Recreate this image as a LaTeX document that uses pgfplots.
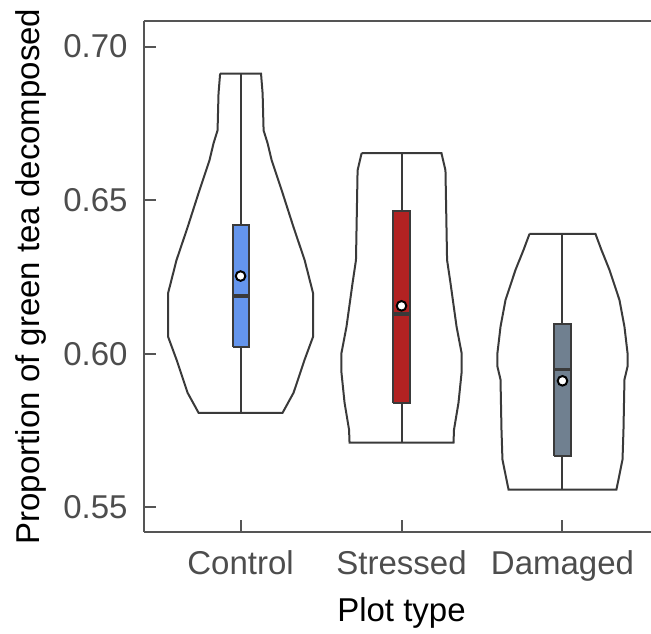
\documentclass[border=0pt]{standalone}
\usepackage{fontspec}
\setmainfont{Liberation Sans}
\usepackage{pgfplots}
\pgfplotsset{compat=1.18}

\definecolor{ctrl}{HTML}{6495ED}
\definecolor{strs}{HTML}{B22222}
\definecolor{dmg}{HTML}{708090}
\definecolor{ink}{HTML}{3A3A3A}
\definecolor{axisgray}{HTML}{555555}
\definecolor{ticktext}{HTML}{4D4D4D}

\newcommand{\chartfont}{\fontsize{16.5}{20}\selectfont}

\begin{document}
\begin{tikzpicture}
\begin{axis}[
  scale only axis, width=253.5pt, height=255.5pt,
  xmin=0.4, xmax=3.55, ymin=0.542, ymax=0.7083,
  clip=false,
  axis x line*=bottom, axis y line*=left,
  axis line style={-, axisgray, line width=1pt},
  xtick={1,2,3}, xticklabels={Control,Stressed,Damaged},
  ytick={0.55,0.60,0.65,0.70},
  /pgf/number format/.cd, fixed, fixed zerofill, precision=2, assume math mode=true, /pgfplots/.cd,
  tick align=inside, major tick length=6pt,
  tick style={axisgray, line width=1pt},
  tick label style={font=\chartfont, text=ticktext},
  xticklabel style={anchor=north, inner sep=0pt, yshift=-9pt},
  yticklabel style={anchor=east, inner sep=0pt, xshift=-8pt},
  label style={font=\chartfont, text=black},
  xlabel={Plot type},
  ylabel={Proportion of green tea decomposed},
  xlabel style={at={([yshift=-32.5pt]axis description cs:0.5079,0)}, anchor=north, inner sep=0pt},
  ylabel style={at={([xshift=-64.5pt]axis description cs:0,0.5)}, anchor=north, inner sep=0pt},
  outline/.style={ink, line width=1pt},
]

% violin outlines (density profiles, mirrored about each category)
\addplot[outline] coordinates {
  (0.873,0.6912) (0.863,0.6847) (0.857,0.6727) (0.832,0.6685) (0.807,0.6630)
  (0.739,0.6523) (0.671,0.6412) (0.602,0.6305) (0.550,0.6198) (0.550,0.6055)
  (0.602,0.5981) (0.671,0.5873) (0.739,0.5808)
  (1.261,0.5808) (1.329,0.5873) (1.398,0.5981) (1.450,0.6055) (1.450,0.6198)
  (1.398,0.6305) (1.329,0.6412) (1.261,0.6523) (1.193,0.6630) (1.168,0.6685)
  (1.143,0.6727) (1.137,0.6847) (1.127,0.6912) (0.873,0.6912)
};
\addplot[outline] coordinates {
  (1.752,0.6653) (1.727,0.6597) (1.717,0.6305) (1.696,0.6231) (1.658,0.6088)
  (1.627,0.6003) (1.627,0.5938) (1.646,0.5841) (1.674,0.5753) (1.677,0.5711)
  (2.323,0.5711) (2.326,0.5753) (2.354,0.5841) (2.373,0.5938) (2.373,0.6003)
  (2.342,0.6088) (2.304,0.6231) (2.283,0.6305) (2.273,0.6597) (2.248,0.6653)
  (1.752,0.6653)
};
\addplot[outline] coordinates {
  (2.795,0.6390) (2.758,0.6338) (2.708,0.6273) (2.646,0.6175) (2.615,0.6088)
  (2.596,0.6003) (2.596,0.5958) (2.615,0.5916) (2.621,0.5753) (2.627,0.5656)
  (2.652,0.5591) (2.665,0.5558)
  (3.335,0.5558) (3.348,0.5591) (3.373,0.5656) (3.379,0.5753) (3.385,0.5916)
  (3.404,0.5958) (3.404,0.6003) (3.385,0.6088) (3.354,0.6175) (3.292,0.6273)
  (3.242,0.6338) (3.205,0.6390) (2.795,0.6390)
};

% whiskers: min to max of each group
\addplot[outline] coordinates {(1,0.5808) (1,0.6912)};
\addplot[outline] coordinates {(2,0.5711) (2,0.6653)};
\addplot[outline] coordinates {(3,0.5558) (3,0.6390)};

% boxes: lower to upper quartile
\addplot[outline, fill=ctrl] coordinates {(0.95,0.6023) (1.05,0.6023) (1.05,0.6419) (0.95,0.6419) (0.95,0.6023)};
\addplot[outline, fill=strs] coordinates {(1.95,0.5841) (2.05,0.5841) (2.05,0.6464) (1.95,0.6464) (1.95,0.5841)};
\addplot[outline, fill=dmg]  coordinates {(2.95,0.5666) (3.05,0.5666) (3.05,0.6097) (2.95,0.6097) (2.95,0.5666)};

% medians
\addplot[ink, line width=1.7pt] coordinates {(0.95,0.6188) (1.05,0.6188)};
\addplot[ink, line width=1.7pt] coordinates {(1.95,0.6130) (2.05,0.6130)};
\addplot[ink, line width=1.7pt] coordinates {(2.95,0.5948) (3.05,0.5948)};

% group means
\addplot[only marks, mark=*, mark size=2.4pt,
  mark options={fill=white, draw=black, line width=1pt}]
  coordinates {(1,0.6253) (2,0.6156) (3,0.5912)};

% top frame line
\draw[axisgray, line width=1pt] (rel axis cs:0,1) -- (rel axis cs:1,1);
\end{axis}
\pgfresetboundingbox
\useasboundingbox (-72pt,-50.5pt) rectangle (253.5pt,266pt);
\end{tikzpicture}
\end{document}
